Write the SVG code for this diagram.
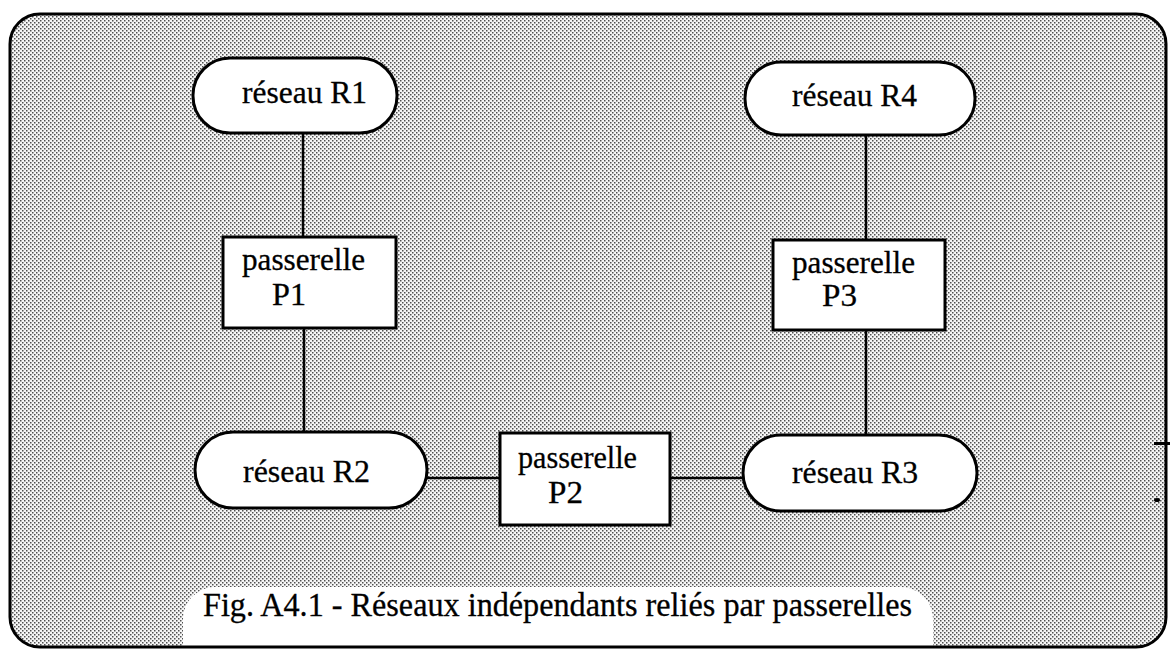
<svg xmlns="http://www.w3.org/2000/svg" width="1170" height="653" viewBox="0 0 1170 653">
  <defs>
    <pattern id="dots" width="4" height="4" patternUnits="userSpaceOnUse">
      <rect width="4" height="4" fill="#f6f6f6"/>
      <rect x="0" y="0" width="1.5" height="1.5" fill="#505050"/>
      <rect x="2" y="2" width="1.5" height="1.5" fill="#505050"/>
    </pattern>
    <clipPath id="frameClip">
      <rect x="10" y="14" width="1156" height="633" rx="30"/>
    </clipPath>
  </defs>
  <style>
    .node { fill: #ffffff; stroke: #000; stroke-width: 3; }
    .lbl { font-family: "Liberation Serif", "Times New Roman", serif; font-size: 32px; fill: #000; stroke: #000; stroke-width: 0.3; }
    .cap { font-family: "Liberation Serif", "Times New Roman", serif; font-size: 33px; fill: #000; stroke: #000; stroke-width: 0.3; }
    .conn line { stroke: #000; stroke-width: 2.5; }
  </style>
  <rect width="1170" height="653" fill="#ffffff"/>
  <rect id="frame-bg" x="10" y="14" width="1156" height="633" rx="30" fill="url(#dots)"/>

  <g id="connectors" class="conn">
    <line x1="303" y1="133" x2="303" y2="237"/>
    <line x1="304" y1="328" x2="304" y2="432"/>
    <line x1="866" y1="135" x2="866" y2="240"/>
    <line x1="866" y1="330" x2="866" y2="435"/>
    <line x1="427" y1="478" x2="500" y2="478"/>
    <line x1="670" y1="478" x2="743" y2="478"/>
  </g>

  <g id="R1">
    <rect class="node" x="193" y="58" width="204" height="75" rx="37"/>
    <text class="lbl" x="242" y="103" textLength="125" lengthAdjust="spacingAndGlyphs">réseau R1</text>
  </g>
  <g id="R4">
    <rect class="node" x="745" y="62" width="230" height="73" rx="36"/>
    <text class="lbl" x="792" y="106" textLength="125" lengthAdjust="spacingAndGlyphs">réseau R4</text>
  </g>
  <g id="P1">
    <rect class="node" x="223" y="237" width="173" height="91"/>
    <text class="lbl" x="242" y="270" textLength="123" lengthAdjust="spacingAndGlyphs">passerelle</text>
    <text class="lbl" x="272" y="305" textLength="34" lengthAdjust="spacingAndGlyphs">P1</text>
  </g>
  <g id="P3">
    <rect class="node" x="773" y="240" width="172" height="90"/>
    <text class="lbl" x="792" y="273" textLength="123" lengthAdjust="spacingAndGlyphs">passerelle</text>
    <text class="lbl" x="822" y="306" textLength="35" lengthAdjust="spacingAndGlyphs">P3</text>
  </g>
  <g id="R2">
    <rect class="node" x="195" y="432" width="232" height="76" rx="38"/>
    <text class="lbl" x="243" y="482" textLength="127" lengthAdjust="spacingAndGlyphs">réseau R2</text>
  </g>
  <g id="P2">
    <rect class="node" x="500" y="433" width="170" height="92"/>
    <text class="lbl" x="518" y="468" textLength="119" lengthAdjust="spacingAndGlyphs">passerelle</text>
    <text class="lbl" x="548" y="503" textLength="35" lengthAdjust="spacingAndGlyphs">P2</text>
  </g>
  <g id="R3">
    <rect class="node" x="743" y="435" width="234" height="76" rx="38"/>
    <text class="lbl" x="792" y="483" textLength="126" lengthAdjust="spacingAndGlyphs">réseau R3</text>
  </g>

  <g id="caption">
    <rect x="183" y="587" width="750" height="90" rx="32" fill="#ffffff" clip-path="url(#frameClip)"/>
    <text class="cap" x="203" y="616" textLength="709" lengthAdjust="spacingAndGlyphs">Fig. A4.1 - Réseaux indépendants reliés par passerelles</text>
  </g>

  <rect id="frame" x="10" y="14" width="1156" height="633" rx="30" fill="none" stroke="#000" stroke-width="3"/>

  <g id="scan-marks" fill="#000">
    <rect x="1154" y="442" width="16" height="3"/>
    <ellipse cx="1157" cy="500" rx="3" ry="2"/>
  </g>
</svg>
